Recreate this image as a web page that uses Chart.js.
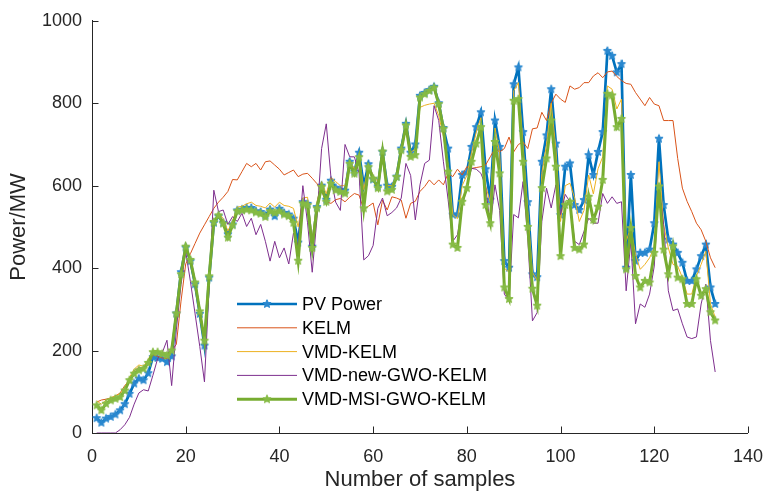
<!DOCTYPE html>
<html>
<head>
<meta charset="utf-8">
<script src="https://cdn.jsdelivr.net/npm/chart.js@4.4.1/dist/chart.umd.min.js"></script>
<style>
  html, body { margin: 0; padding: 0; background: #ffffff; }
  #wrap { width: 776px; height: 500px; }
</style>
</head>
<body>
<div id="wrap"><canvas id="c" width="776" height="500"></canvas></div>
<script>
// ---------- data ----------
const sampleCount = 133;
const samples = Array.from({ length: sampleCount }, (_, k) => k + 1);

const xTicks = [0, 20, 40, 60, 80, 100, 120, 140];
const yTicks = [0, 200, 400, 600, 800, 1000];

const seriesNames = ['PV Power', 'KELM', 'VMD-KELM', 'VMD-new-GWO-KELM', 'VMD-MSI-GWO-KELM'];

const pvPower = [
  36, 25, 35, 39, 45, 55, 70, 95, 120, 132,
  128, 145, 184, 182, 180, 172, 186, 290, 390, 450,
  417, 361, 289, 212, 377, 510, 526, 510, 482, 506,
  540, 542, 546, 546, 538, 536, 528, 542, 526, 544,
  534, 530, 520, 462, 560, 556, 452, 548, 600, 566,
  612, 595, 590, 588, 658, 634, 680, 600, 652, 615,
  598, 682, 600, 597, 622, 690, 750, 680, 700, 818,
  825, 832, 840, 800, 740, 690, 530, 530, 626, 632,
  694, 742, 778, 640, 566, 758, 694, 417, 401, 846,
  887, 730, 560, 385, 378, 658, 722, 834, 702, 529,
  646, 654, 553, 541, 565, 674, 626, 682, 730, 927,
  915, 875, 895, 401, 626, 417, 437, 437, 445, 509,
  714, 553, 469, 457, 437, 413, 369, 369, 397, 429,
  457, 353, 313
];

const kelm = [
  75, 80, 82, 85, 90, 97, 115, 128, 150, 160,
  155, 165, 190, 186, 182, 180, 200, 215, 320, 410,
  435, 460, 485, 505, 525, 545, 560, 572, 586, 615,
  614, 634, 654, 646, 654, 638, 658, 660, 650, 640,
  626, 632, 638, 622, 628, 630, 618, 605, 586, 561,
  557, 566, 569, 561, 572, 581, 577, 542, 550, 558,
  505, 565, 541, 573, 570, 565, 521, 557, 562, 586,
  598, 614, 602, 614, 602, 630, 622, 640, 626, 646,
  642, 644, 646, 650, 670, 690, 682, 690, 718, 682,
  700, 706, 690, 738, 740, 778, 758, 800, 822, 810,
  802, 842, 834, 838, 850, 850, 866, 874, 862, 876,
  878, 865, 855, 848, 846, 826, 810, 794, 814, 798,
  794, 758, 758, 758, 666, 594, 562, 537, 509, 493,
  465, 425, 401
];

const vmdKelm = [
  78, 70, 80, 85, 90, 95, 110, 135, 155, 165,
  162, 178, 200, 200, 195, 190, 200, 280, 375, 445,
  425, 370, 300, 230, 370, 505, 535, 520, 490, 515,
  548, 550, 556, 560, 552, 550, 546, 558, 548, 560,
  552, 550, 545, 500, 570, 572, 470, 560, 610, 580,
  620, 610, 600, 600, 660, 640, 675, 590, 650, 625,
  610, 680, 600, 600, 625, 690, 740, 680, 690, 790,
  795, 798, 800, 770, 720, 650, 530, 520, 600, 625,
  680, 730, 765, 600, 560, 740, 680, 400, 390, 830,
  850, 700, 540, 390, 370, 630, 700, 800, 690, 513,
  600, 606, 570, 513, 540, 626, 580, 641, 670, 842,
  834, 786, 810, 465, 500, 433, 397, 409, 425, 450,
  658, 505, 449, 409, 405, 377, 337, 337, 381, 409,
  441, 313, 281
];

const vmdNewGwoKelm = [
  0, 0, 0, 0, 0, 8, 20, 38, 70, 97,
  105, 102, 140, 180, 195, 225, 115, 250, 360, 440,
  368, 289, 210, 124, 353, 589, 537, 541, 506, 525,
  513, 533, 501, 521, 481, 506, 465, 417, 465, 425,
  449, 410, 485, 455, 600, 510, 390, 520, 690, 750,
  620, 560, 540, 700, 670, 670, 630, 420, 430, 455,
  545, 570, 527, 535, 546, 570, 654, 625, 517, 602,
  654, 662, 794, 758, 658, 566, 465, 481, 546, 600,
  642, 640, 630, 600, 501, 602, 540, 337, 321, 530,
  522, 610, 473, 272, 292, 513, 594, 546, 602, 530,
  579, 561, 465, 457, 489, 521, 509, 509, 581, 557,
  573, 557, 561, 345, 465, 265, 313, 305, 337, 405,
  602, 505, 345, 297, 301, 265, 233, 229, 233, 313,
  361, 224, 148
];

const vmdMsiGwoKelm = [
  67, 55, 71, 79, 83, 87, 103, 128, 144, 152,
  156, 170, 196, 196, 192, 188, 200, 290, 385, 452,
  420, 365, 295, 224, 380, 512, 528, 508, 474, 504,
  538, 540, 542, 540, 535, 532, 524, 538, 534, 538,
  530, 526, 510, 418, 557, 553, 449, 545, 597, 561,
  605, 589, 585, 581, 653, 629, 669, 545, 645, 617,
  594, 683, 586, 590, 621, 686, 746, 670, 674, 814,
  822, 830, 838, 798, 738, 634, 457, 449, 561, 594,
  658, 702, 742, 553, 509, 706, 630, 353, 325, 806,
  810, 658, 500, 350, 309, 594, 666, 758, 646, 429,
  553, 561, 449, 445, 457, 573, 517, 549, 614, 823,
  819, 742, 762, 397, 497, 381, 353, 369, 365, 437,
  598, 445, 385, 453, 377, 373, 313, 313, 373, 333,
  349, 293, 273
];

// ---------- styling helpers ----------
function makeStar(fill, r) {
  const s = Math.ceil(r * 2 + 3);
  const c = document.createElement('canvas');
  c.width = s; c.height = s;
  const g = c.getContext('2d');
  g.fillStyle = fill; g.strokeStyle = fill; g.lineWidth = 1;
  g.beginPath();
  for (let k = 0; k < 10; k++) {
    const a = -Math.PI / 2 + k * Math.PI / 5;
    const rr = (k % 2 === 0) ? r : r * 0.45;
    g.lineTo(s / 2 + rr * Math.cos(a), s / 2 + rr * Math.sin(a));
  }
  g.closePath(); g.fill(); g.stroke();
  return c;
}
const blueStar = makeStar('#2a88cf', 4.3);
const greenStar = makeStar('#86bb45', 4.3);

const FONT = '"Liberation Sans", Arial, Helvetica, sans-serif';
const TXT = '#262626';

function pts(arr) { return arr.map((v, k) => ({ x: samples[k], y: v })); }

const datasets = [
  { label: seriesNames[0], data: pts(pvPower), borderColor: '#0072BD', backgroundColor: '#0072BD',
    borderWidth: 2.7, pointStyle: blueStar, pointRadius: 4, order: 5, legendMarker: blueStar },
  { label: seriesNames[1], data: pts(kelm), borderColor: '#D95319', backgroundColor: '#D95319',
    borderWidth: 1, pointRadius: 0, order: 4 },
  { label: seriesNames[2], data: pts(vmdKelm), borderColor: '#EDB120', backgroundColor: '#EDB120',
    borderWidth: 1, pointRadius: 0, order: 3 },
  { label: seriesNames[3], data: pts(vmdNewGwoKelm), borderColor: '#7E2F8E', backgroundColor: '#7E2F8E',
    borderWidth: 1, pointRadius: 0, order: 2 },
  { label: seriesNames[4], data: pts(vmdMsiGwoKelm), borderColor: '#77AC30', backgroundColor: '#77AC30',
    borderWidth: 3, pointStyle: greenStar, pointRadius: 4, order: 1, legendMarker: greenStar }
];

// inner tick marks + custom in-plot legend
const decorPlugin = {
  id: 'decor',
  afterDraw(chart) {
    const ctx = chart.ctx;
    const xs = chart.scales.x, ys = chart.scales.y;
    const a = chart.chartArea;
    ctx.save();
    ctx.strokeStyle = TXT; ctx.lineWidth = 1;
    ctx.beginPath();
    xTicks.forEach(t => {
      const px = Math.round(xs.getPixelForValue(t)) + 0.5;
      ctx.moveTo(px, a.bottom); ctx.lineTo(px, a.bottom - 6.5);
    });
    yTicks.forEach(t => {
      const py = Math.round(ys.getPixelForValue(t)) + 0.5;
      ctx.moveTo(a.left, py); ctx.lineTo(a.left + 6.5, py);
    });
    ctx.stroke();

    // legend
    const lx0 = 237, lx1 = 297, tx = 302, y0 = 304, dy = 23.8;
    ctx.font = '18px ' + FONT;
    ctx.textBaseline = 'middle';
    ctx.textAlign = 'left';
    chart.data.datasets.forEach((ds, k) => {
      const y = y0 + k * dy;
      ctx.strokeStyle = ds.borderColor;
      ctx.lineWidth = ds.borderWidth;
      ctx.beginPath(); ctx.moveTo(lx0, y); ctx.lineTo(lx1, y); ctx.stroke();
      if (ds.legendMarker) {
        const m = ds.legendMarker;
        ctx.drawImage(m, (lx0 + lx1) / 2 - m.width / 2, y - m.height / 2);
      }
      ctx.fillStyle = '#000000';
      ctx.fillText(ds.label, tx, y + 1);
    });
    ctx.restore();
  }
};

new Chart(document.getElementById('c'), {
  type: 'line',
  data: { datasets },
  options: {
    responsive: false,
    devicePixelRatio: 1,
    animation: false,
    events: [],
    layout: { padding: { top: 20, right: 16, left: 0, bottom: 0 } },
    elements: { line: { tension: 0 } },
    plugins: { legend: { display: false }, tooltip: { enabled: false } },
    scales: {
      x: {
        type: 'linear', min: 0, max: 140,
        afterBuildTicks: s => { s.ticks = xTicks.map(v => ({ value: v })); },
        afterFit: s => { s.height = 67; },
        grid: { display: false, drawTicks: false },
        border: { display: true, color: TXT, width: 1 },
        ticks: { color: TXT, font: { family: FONT, size: 18 }, padding: 13, maxRotation: 0,
                 callback: v => String(v) },
        title: { display: true, text: 'Number of samples', color: TXT,
                 font: { family: FONT, size: 22 }, padding: { top: 0, bottom: 7 } }
      },
      y: {
        type: 'linear', min: 0, max: 1000,
        afterBuildTicks: s => { s.ticks = yTicks.map(v => ({ value: v })); },
        afterFit: s => { s.width = 92; },
        grid: { display: false, drawTicks: false },
        border: { display: true, color: TXT, width: 1 },
        ticks: { color: TXT, font: { family: FONT, size: 18 }, padding: 10,
                 callback: v => String(v) },
        title: { display: true, text: 'Power/MW', color: TXT,
                 font: { family: FONT, size: 22 }, padding: { top: 6, bottom: 0 } }
      }
    }
  },
  plugins: [decorPlugin]
});
</script>
</body>
</html>
